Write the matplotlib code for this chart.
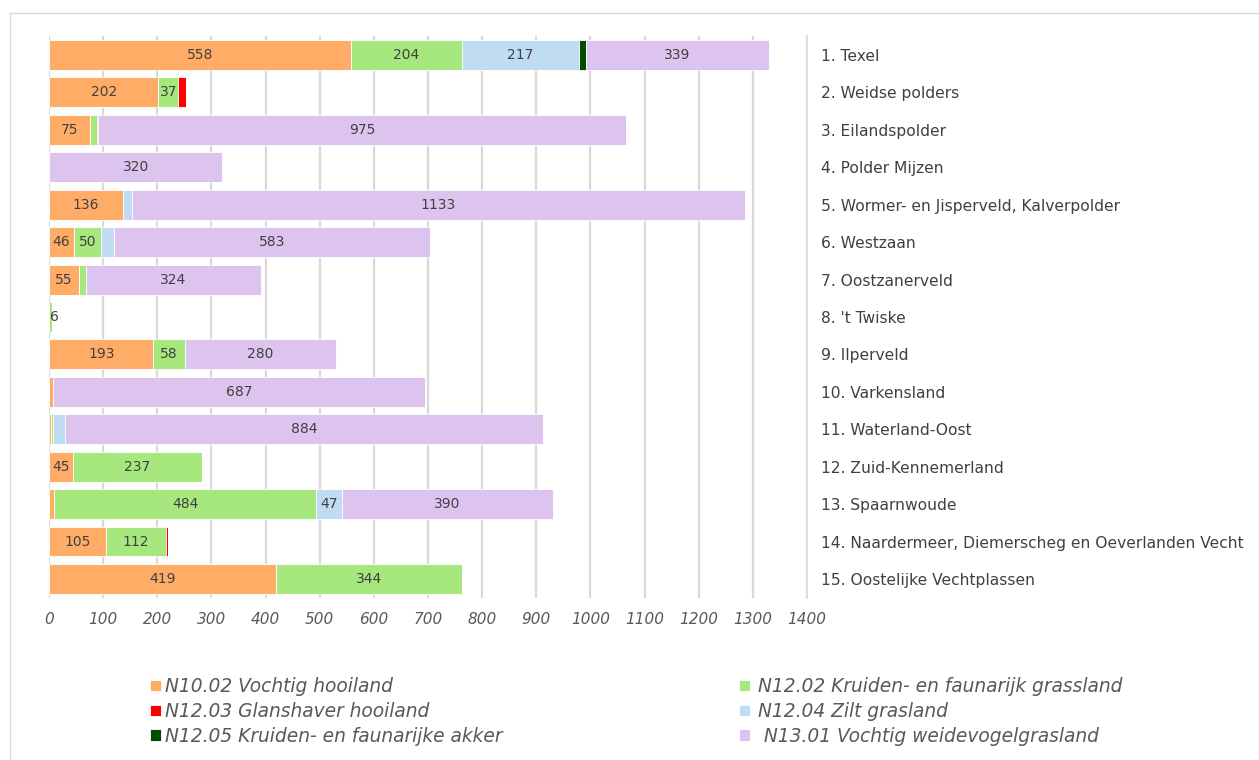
import numpy as np
import matplotlib
matplotlib.use("Agg")
import matplotlib.pyplot as plt
from matplotlib.lines import Line2D

# Gebieden (van boven naar beneden)
gebieden = ["1. Texel", "2. Weidse polders", "3. Eilandspolder", "4. Polder Mijzen",
            "5. Wormer- en Jisperveld, Kalverpolder", "6. Westzaan", "7. Oostzanerveld",
            "8. 't Twiske", "9. Ilperveld", "10. Varkensland", "11. Waterland-Oost",
            "12. Zuid-Kennemerland", "13. Spaarnwoude",
            "14. Naardermeer, Diemerscheg en Oeverlanden Vecht", "15. Oostelijke Vechtplassen"]

# hectares per beheertype
n1002 = [558, 202, 75, 0, 136, 46, 55, 0, 193, 7, 4, 45, 10, 105, 419]
n1202 = [204, 37, 14, 0, 0, 50, 13, 6, 58, 1, 3, 237, 484, 112, 344]
n1203 = [0, 14, 2, 0, 0, 0, 0, 0, 0, 0, 0, 0, 0, 2, 0]
n1204 = [217, 0, 0, 0, 17, 24, 0, 0, 0, 0, 22, 0, 47, 0, 0]
n1205 = [12, 0, 0, 0, 0, 0, 0, 0, 0, 0, 0, 0, 0, 0, 0]
n1301 = [339, 0, 975, 320, 1133, 583, 324, 0, 280, 687, 884, 0, 390, 0, 0]

series = [n1002, n1202, n1203, n1204, n1205, n1301]
namen = ["N10.02 Vochtig hooiland", "N12.02 Kruiden- en faunarijk grassland",
         "N12.03 Glanshaver hooiland", "N12.04 Zilt grasland",
         "N12.05 Kruiden- en faunarijke akker", " N13.01 Vochtig weidevogelgrasland"]
kleuren = ["#FFAD66", "#A6E87D", "#FF0000", "#C0DCF2", "#004D00", "#DDC4EE"]

xticks = np.arange(0, 1401, 100)

fig = plt.figure(figsize=(12.59, 7.6), dpi=100)
ax = fig.add_axes([0.0389, 0.2136, 0.6021, 0.7386])

y = np.arange(len(gebieden))
totaal = np.sum(series, axis=0)
left = np.zeros(len(gebieden))
handles = []
for vals, naam, kleur in zip(series, namen, kleuren):
    vals = np.array(vals, dtype=float)
    bars = ax.barh(y, vals, left=left, height=0.8, color=kleur,
                   edgecolor="white", linewidth=0.6, zorder=3)
    for i, v in enumerate(vals):
        if v >= 30:
            ax.text(left[i] + v / 2, y[i], f"{int(v)}", ha="center", va="center",
                    fontsize=10, color="#404040", zorder=4)
        elif v > 0 and v == totaal[i]:
            # enkel segment (bijv. 't Twiske)
            ax.text(left[i] + 1, y[i], f"{int(v)}", ha="left", va="center",
                    fontsize=10, color="#404040", zorder=4)
    left += vals
    handles.append(bars)

ax.set_xlim(0, 1400)
ax.set_ylim(len(gebieden) - 0.5, -0.5)
ax.set_xticks(xticks)
ax.set_xticklabels([str(t) for t in xticks], fontsize=11, style="italic", color="#595959")
ax.set_yticks(y)
ax.set_yticklabels(gebieden, fontsize=11.2, color="#404040")
ax.yaxis.tick_right()
ax.tick_params(axis="y", length=0, pad=10)
ax.tick_params(axis="x", length=0, pad=10)
ax.grid(axis="x", color="#D9D9D9", linewidth=1.6, zorder=0)
for s in ["top", "bottom", "left"]:
    ax.spines[s].set_visible(False)
ax.spines["right"].set_color("#D9D9D9")
ax.spines["right"].set_linewidth(1.2)

# legenda in twee kolommen
leg_kw = dict(frameon=False, handlelength=0.6, handleheight=0.55,
              labelspacing=0.31, borderaxespad=0, borderpad=0,
              prop={"size": 13.4, "style": "italic"}, labelcolor="#595959")
leg1 = fig.legend(handles[0::2], namen[0::2], loc="upper left", handletextpad=0.2,
                  bbox_to_anchor=(150 / 1259, 1 - 677 / 760), **leg_kw)
leg2 = fig.legend(handles[1::2], namen[1::2], loc="upper left", handletextpad=0.4,
                  bbox_to_anchor=(739 / 1259, 1 - 677 / 760), **leg_kw)

# rand van de grafiek
fig.add_artist(Line2D([10 / 1259, 10 / 1259], [0, 1 - 13 / 760], transform=fig.transFigure,
                      color="#D9D9D9", linewidth=1))
fig.add_artist(Line2D([10 / 1259, 1], [1 - 13 / 760, 1 - 13 / 760], transform=fig.transFigure,
                      color="#D9D9D9", linewidth=1))

fig.savefig("out.png", dpi=100)
